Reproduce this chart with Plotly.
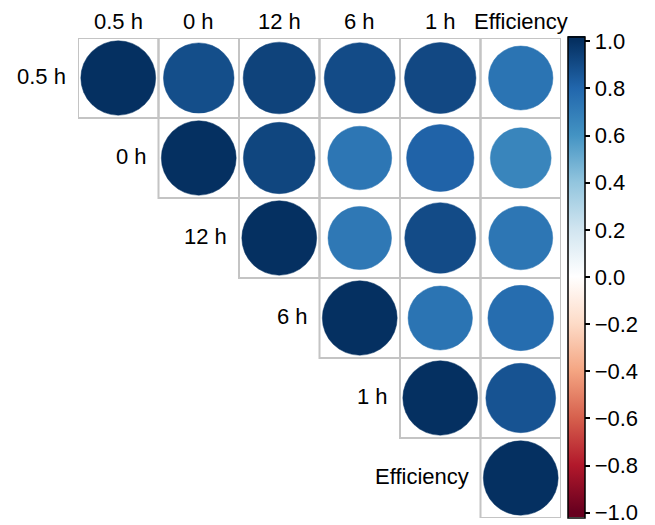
import math
import plotly.graph_objects as go
from plotly.colors import sample_colorscale

# ---- data ----
labels = ["0.5 h", "0 h", "12 h", "6 h", "1 h", "Efficiency"]
row_05h = [1.00, 0.89, 0.93, 0.90, 0.91, 0.74]
row_0h = [1.00, 0.92, 0.73, 0.81, 0.66]
row_12h = [1.00, 0.72, 0.90, 0.73]
row_6h = [1.00, 0.74, 0.77]
row_1h = [1.00, 0.87]
row_eff = [1.00]
rows = [row_05h, row_0h, row_12h, row_6h, row_1h, row_eff]

palette = ["#67001F", "#B2182B", "#D6604D", "#F4A582", "#FDDBC7", "#FFFFFF",
           "#D1E5F0", "#92C5DE", "#4393C3", "#2166AC", "#053061"]
colorscale = [[i / 10, c] for i, c in enumerate(palette)]
cbar_ticks = [-1.0, -0.8, -0.6, -0.4, -0.2, 0.0, 0.2, 0.4, 0.6, 0.8, 1.0]

FONT = "Liberation Sans, Arial, sans-serif"
FS = 22
GRID = "#c4c4c4"

shapes = []
xs, ys, vals = [], [], []
for i, row in enumerate(rows):
    for k, v in enumerate(row):
        j = i + k
        shapes.append(dict(type="rect", xref="x", yref="y",
                           x0=j - 0.5, x1=j + 0.5, y0=i - 0.5, y1=i + 0.5,
                           line=dict(color=GRID, width=2), fillcolor="rgba(0,0,0,0)",
                           layer="below"))
        xs.append(j); ys.append(i); vals.append(v)

circle_shapes = []
for x, y, v in zip(xs, ys, vals):
    r = 0.465 * math.sqrt(abs(v))
    col = sample_colorscale(colorscale, [(v + 1) / 2])[0]
    circle_shapes.append(dict(type="circle", xref="x", yref="y",
                              x0=x - r, x1=x + r, y0=y - r, y1=y + r,
                              fillcolor=col, line=dict(color=col, width=0.5),
                              layer="above"))

# colorbar range slightly padded so the bar extends a little past +/-1
CB = 1.02
cb_scale = []
for p, c in colorscale:
    v = -1 + 2 * p
    cb_scale.append([(v + CB) / (2 * CB), c])
cb_scale = [[0, palette[0]]] + cb_scale + [[1, palette[-1]]]

fig = go.Figure()
fig.add_trace(go.Scatter(
    x=xs, y=ys, mode="markers", hoverinfo="skip", showlegend=False,
    marker=dict(size=1, opacity=0, color=vals, colorscale=cb_scale,
                cmin=-CB, cmax=CB, showscale=True,
                colorbar=dict(
                    x=(568 - 78) / 483, xanchor="left", xpad=0,
                    y=(518 - 277) / 480, yanchor="middle", ypad=0,
                    lenmode="pixels", len=481,
                    thicknessmode="pixels", thickness=17,
                    outlinecolor="black", outlinewidth=1.5,
                    tickmode="array", tickvals=cbar_ticks,
                    ticktext=[("\u2212" if t < 0 else "") + f"{abs(t):.1f}" for t in cbar_ticks],
                    ticks="outside", ticklen=5, tickwidth=1.5, tickcolor="black",
                    ticklabeloverflow="allow",
                    tickfont=dict(family=FONT, size=FS, color="black"),
                ))))

annotations = []
for j, lab in enumerate(labels):
    annotations.append(dict(x=j, y=1, xref="x", yref="paper", text=lab,
                            showarrow=False, xanchor="center", yanchor="middle",
                            yshift=17, font=dict(family=FONT, size=FS, color="black")))
    annotations.append(dict(x=j - 0.5, y=j, xref="x", yref="y", text=lab,
                            showarrow=False, xanchor="right", yanchor="middle",
                            xshift=-10, yshift=2,
                            font=dict(family=FONT, size=FS, color="black")))

fig.update_layout(
    width=655, height=525,
    margin=dict(l=78, r=94, t=38, b=7),
    paper_bgcolor="white", plot_bgcolor="white",
    xaxis=dict(range=[-0.5, 5.5], visible=False, fixedrange=True),
    yaxis=dict(range=[5.5, -0.5], visible=False, fixedrange=True),
    shapes=shapes + circle_shapes,
    annotations=annotations,
)

fig.write_html("out.html")
